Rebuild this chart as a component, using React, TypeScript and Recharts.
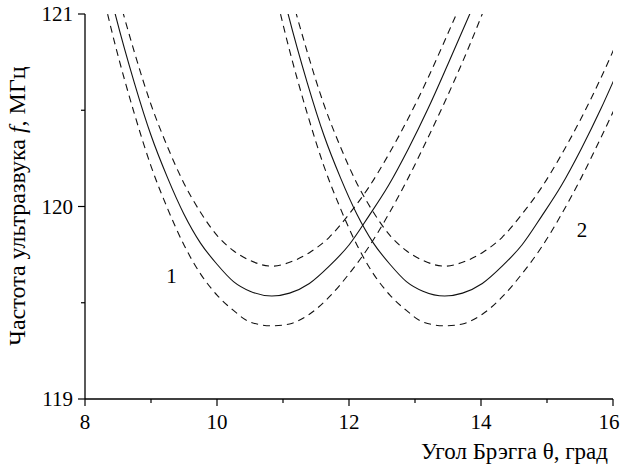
import React from "react";
import { LineChart, Line, XAxis, YAxis, ReferenceDot } from "recharts";

// Bragg angle samples (deg) for curve 1 and curve 2
const thetaA = [8.3, 8.45, 8.75, 9.0, 9.25, 9.5, 9.75, 10.0, 10.25, 10.5, 10.83, 11.1, 11.4, 11.7, 12.0, 12.3, 12.6, 12.9, 13.2, 13.5, 13.83, 14.1];
const thetaB = [10.92, 11.07, 11.37, 11.62, 11.87, 12.12, 12.37, 12.62, 12.87, 13.12, 13.45, 13.72, 14.02, 14.32, 14.62, 14.92, 15.22, 15.52, 15.82, 16.12, 16.45, 16.72];

// frequency, MHz (solid = centre, dashed = upper / lower bounds)
const fSolid = [121.22, 121.01, 120.64, 120.37, 120.15, 119.96, 119.81, 119.7, 119.61, 119.56, 119.535, 119.55, 119.6, 119.69, 119.8, 119.95, 120.11, 120.3, 120.51, 120.74, 121.0, 121.22];
const fUpper = [121.38, 121.17, 120.8, 120.53, 120.31, 120.12, 119.97, 119.85, 119.77, 119.72, 119.69, 119.71, 119.76, 119.84, 119.96, 120.1, 120.27, 120.46, 120.67, 120.9, 121.16, 121.38];
const fLower = [121.06, 120.85, 120.48, 120.21, 119.99, 119.8, 119.65, 119.54, 119.46, 119.4, 119.38, 119.39, 119.44, 119.53, 119.65, 119.79, 119.96, 120.15, 120.36, 120.58, 120.84, 121.07];

const xTicks = [8, 9, 10, 11, 12, 13, 14, 15, 16];
const yTicks = [119, 119.5, 120, 120.5, 121];

const curveLabels = [
  { t: 9.31, f: 119.64, text: "1" },
  { t: 15.53, f: 119.88, text: "2" },
];

const FONT = "'Liberation Serif', 'Times New Roman', serif";

const toPoints = (ts: number[], fs: number[]) => ts.map((t, i) => ({ t, f: fs[i] }));

const series = [
  { key: "1s", data: toPoints(thetaA, fSolid), dash: undefined },
  { key: "1u", data: toPoints(thetaA, fUpper), dash: "7 5" },
  { key: "1l", data: toPoints(thetaA, fLower), dash: "7 5" },
  { key: "2s", data: toPoints(thetaB, fSolid), dash: undefined },
  { key: "2u", data: toPoints(thetaB, fUpper), dash: "7 5" },
  { key: "2l", data: toPoints(thetaB, fLower), dash: "7 5" },
];

function XTick(props: any) {
  const { x, y, payload } = props;
  const major = payload.value % 2 === 0;
  return (
    <g>
      <line x1={x} y1={y} x2={x} y2={y + (major ? 7 : 4)} stroke="#000" strokeWidth={1.2} />
      {major && (
        <text x={Math.min(x, 609)} y={y + 30} textAnchor="middle" fontFamily={FONT} fontSize={21} fill="#000">
          {payload.value}
        </text>
      )}
    </g>
  );
}

function YTick(props: any) {
  const { x, y, payload } = props;
  const major = Number.isInteger(payload.value);
  return (
    <g>
      <line x1={x - (major ? 7 : 4)} y1={y} x2={x} y2={y} stroke="#000" strokeWidth={1.2} />
      {major && (
        <text x={x - 12} y={y + 7} textAnchor="end" fontFamily={FONT} fontSize={21} fill="#000">
          {payload.value}
        </text>
      )}
    </g>
  );
}

export default function App() {
  return (
    <div style={{ position: "absolute", left: 0, top: 0, width: 621, height: 468, background: "#fff" }}>
      <LineChart width={621} height={468} margin={{ top: 14, right: 8, bottom: 0, left: 0 }}>
        <XAxis
          type="number"
          dataKey="t"
          domain={[8, 16]}
          ticks={xTicks}
          interval={0}
          allowDataOverflow
          height={69}
          tickSize={0}
          tickMargin={0}
          tickLine={false}
          tick={<XTick />}
          axisLine={{ stroke: "#000", strokeWidth: 1.3 }}
        />
        <YAxis
          type="number"
          dataKey="f"
          domain={[119, 121]}
          ticks={yTicks}
          interval={0}
          allowDataOverflow
          width={85}
          tickSize={0}
          tickMargin={0}
          tickLine={false}
          tick={<YTick />}
          axisLine={{ stroke: "#000", strokeWidth: 1.3 }}
        />
        {series.map((s) => (
          <Line
            key={s.key}
            data={s.data}
            dataKey="f"
            type="monotone"
            stroke="#111"
            strokeWidth={1.1}
            strokeDasharray={s.dash}
            dot={false}
            activeDot={false}
            isAnimationActive={false}
          />
        ))}
        {curveLabels.map((c) => (
          <ReferenceDot
            key={c.text}
            x={c.t}
            y={c.f}
            r={0}
            stroke="none"
            fill="none"
            label={{ value: c.text, position: "center", fontFamily: FONT, fontSize: 21, fill: "#000" }}
          />
        ))}
      </LineChart>
      <svg
        width={621}
        height={468}
        style={{ position: "absolute", left: 0, top: 0, pointerEvents: "none" }}
      >
        <text x={608} y={459} textAnchor="end" fontFamily={FONT} fontSize={23} fill="#000">
          Угол Брэгга θ, град
        </text>
        <text
          x={0}
          y={0}
          transform="translate(25 206) rotate(-90)"
          textAnchor="middle"
          fontFamily={FONT}
          fontSize={24}
          fill="#000"
        >
          Частота ультразвука <tspan fontStyle="italic">f</tspan>, МГц
        </text>
      </svg>
    </div>
  );
}
